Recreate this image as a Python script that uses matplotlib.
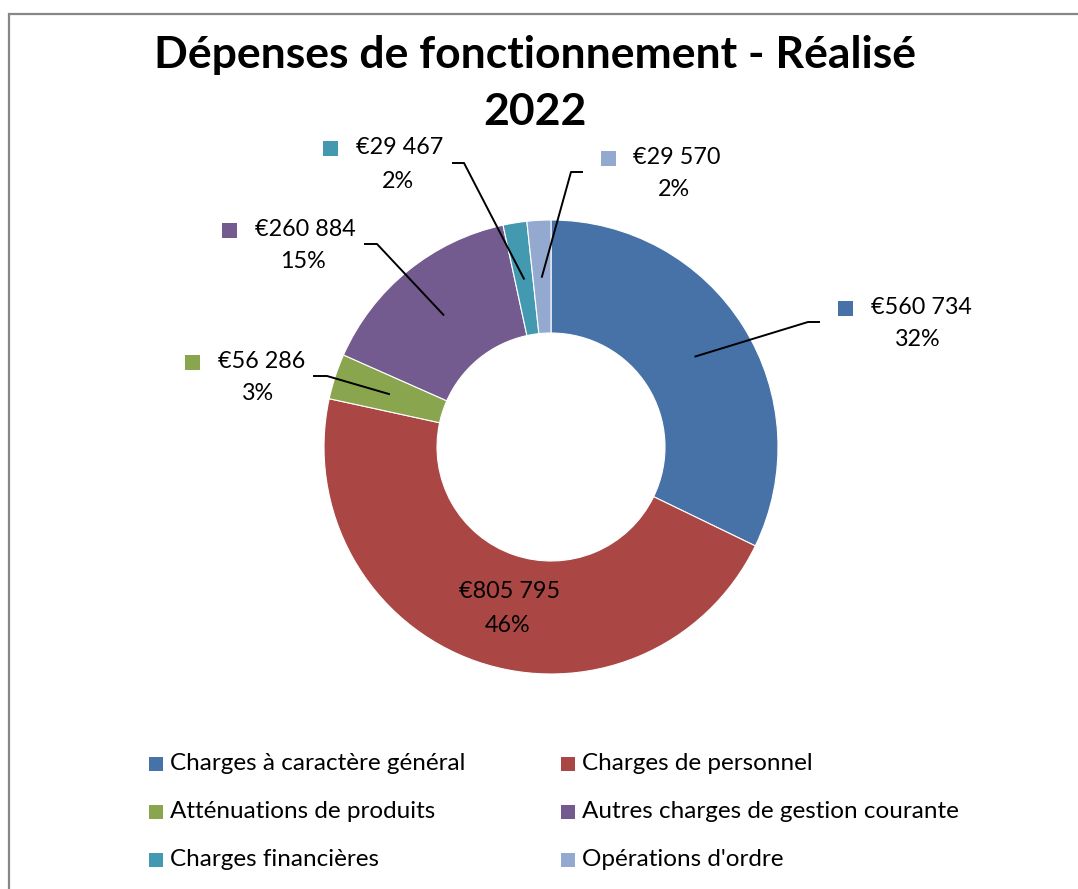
import numpy as np
import matplotlib
matplotlib.use("Agg")
import matplotlib.pyplot as plt
from matplotlib.patches import Rectangle

plt.rcParams['font.family'] = ['Lato', 'DejaVu Sans']

# data
categories = ["Charges à caractère général", "Charges de personnel",
              "Atténuations de produits", "Autres charges de gestion courante",
              "Charges financières", "Opérations d'ordre"]
values = [560734, 805795, 56286, 260884, 29467, 29570]
value_labels = ["€560 734", "€805 795", "€56 286", "€260 884", "€29 467", "€29 570"]
pct_labels = ["32%", "46%", "3%", "15%", "2%", "2%"]
colors = ["#4672A8", "#AA4744", "#89A54E", "#735A8F", "#4399AF", "#93A9CF"]

W, H = 1078, 889
fig = plt.figure(figsize=(W / 100, H / 100), dpi=100)
ax = fig.add_axes([0, 0, 1, 1])

cx, cy = 551, H - 447
R, r = 227, 114
wedges, _ = ax.pie(values, colors=colors, startangle=90, counterclock=False,
                   radius=R, center=(cx, cy),
                   wedgeprops=dict(width=R - r, edgecolor="white", linewidth=0.8))
ax.set_xlim(0, W)
ax.set_ylim(0, H)
ax.set_aspect("equal")
ax.axis("off")

# outer frame
ax.add_patch(Rectangle((9, -20), W, H - 14 + 20, fill=False, edgecolor="#878787", linewidth=1.6))

ax.text(535, H - 55, "Dépenses de fonctionnement - Réalisé", ha="center", va="center",
        fontsize=32, fontweight="bold")
ax.text(535, H - 112, "2022", ha="center", va="center", fontsize=32, fontweight="bold")

fs = 16.8
fs_leg = 17.5
# label layout: marker x, text centres, elbow and end of leader line
layout = {
    0: dict(mx=845, ty=307, py=340, tx=921, px=918, elbow=(808, 322), start=(819, 322)),
    2: dict(mx=192, ty=361, py=393, tx=262, px=258, elbow=(327, 376), start=(314, 376)),
    3: dict(mx=229, ty=229, py=262, tx=305, px=303, elbow=(377, 244), start=(365, 244)),
    4: dict(mx=330, ty=147, py=182, tx=400, px=398, elbow=(464, 163), start=(453, 163)),
    5: dict(mx=608, ty=157, py=190, tx=677, px=674, elbow=(571, 172), start=(582, 172)),
}

total = sum(values)
cum = 0
for i, v in enumerate(values):
    mid = (cum + v / 2) / total
    cum += v
    ang = np.deg2rad(90 - mid * 360)
    ex = cx + (R + r) / 2 * np.cos(ang)
    ey = cy + (R + r) / 2 * np.sin(ang)
    if i not in layout:
        ax.text(510, H - 592, value_labels[i], ha="center", va="center", fontsize=fs)
        ax.text(508, H - 625, pct_labels[i], ha="center", va="center", fontsize=fs)
        continue
    L = layout[i]
    ax.add_patch(Rectangle((L["mx"] - 7.5, H - L["ty"] - 8.5), 15, 15,
                           facecolor=colors[i], edgecolor="none"))
    ax.text(L["tx"], H - L["ty"], value_labels[i], ha="center", va="center", fontsize=fs)
    ax.text(L["px"], H - L["py"], pct_labels[i], ha="center", va="center", fontsize=fs)
    xs = [L["start"][0], L["elbow"][0], ex]
    ys = [H - L["start"][1], H - L["elbow"][1], ey]
    ax.plot(xs, ys, color="black", linewidth=1.4)

# legend
leg_x = [149, 561]
leg_y = [764, 812, 860]
for i, name in enumerate(categories):
    col, row = i % 2, i // 2
    ax.add_patch(Rectangle((leg_x[col], H - leg_y[row] - 7), 14, 14,
                           facecolor=colors[i], edgecolor="none"))
    ax.text(leg_x[col] + 21, H - leg_y[row], name, ha="left", va="center", fontsize=fs_leg)

fig.savefig("out.png", dpi=100)
